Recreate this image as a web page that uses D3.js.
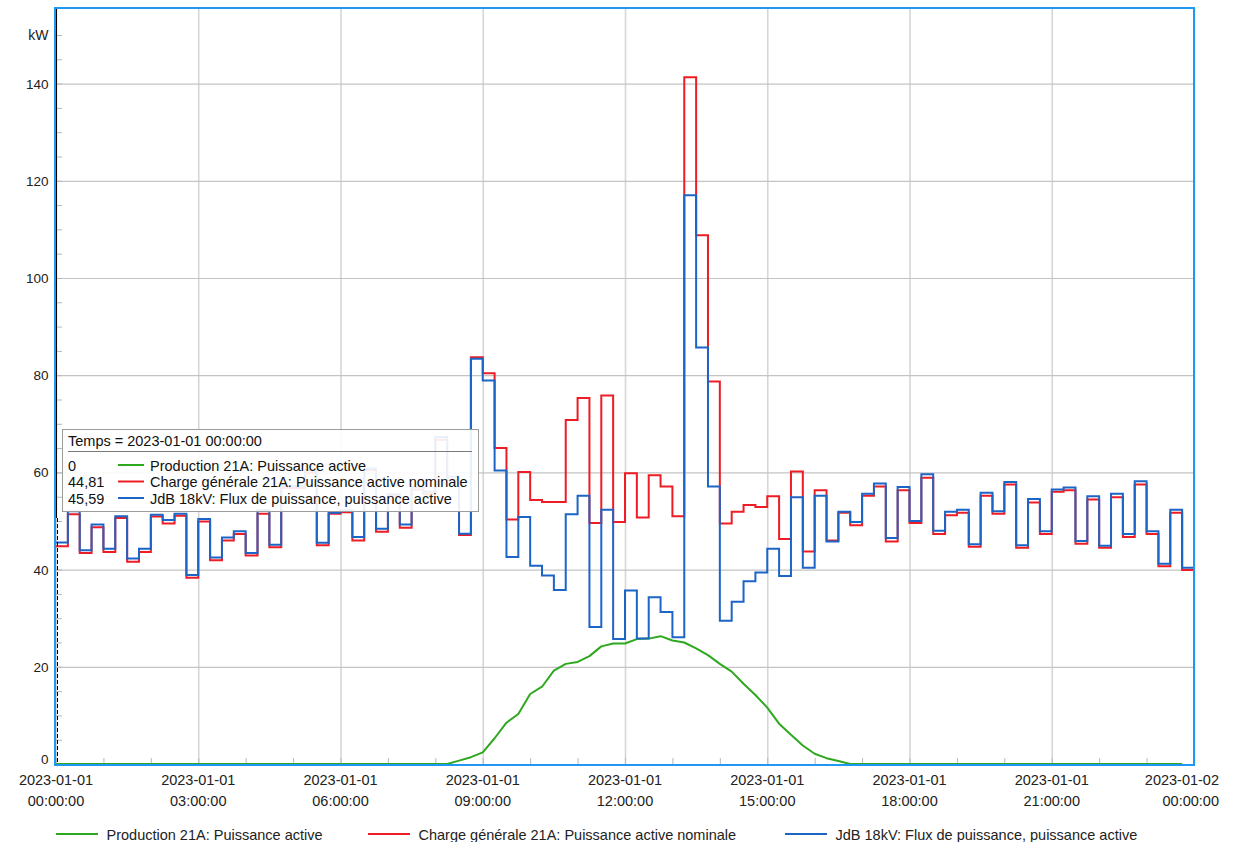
<!DOCTYPE html>
<html><head><meta charset="utf-8">
<script src="https://cdn.jsdelivr.net/npm/d3@7"></script>
<style>
body{margin:0;background:#fff;}
svg{display:block;font-family:"Liberation Sans",Arial,sans-serif;}
</style></head><body>
<svg id="chart" width="1243" height="842"></svg>
<script>
// ---------- DATA ----------
const startTime = "2023-01-01 00:00:00";
const endTime = "2023-01-02 00:00:00";
const stepMinutes = 15;
const unitLabel = "kW";
const yTicks = [0, 20, 40, 60, 80, 100, 120, 140];
const seriesNames = [
  "Production 21A: Puissance active",
  "Charge générale 21A: Puissance active nominale",
  "JdB 18kV: Flux de puissance, puissance active"
];
const seriesColors = ["#2ea81f", "#ee1c25", "#1c64c6"];
const production = [
  0,0,0,0,0,0,0,0,0,0,0,0,0,0,0,0,0,0,0,0,0,0,0,0,
  0,0,0,0,0,0,0,0,0,0,0.7,1.4,2.4,5.3,8.5,10.3,14.4,15.9,19.2,20.6,21.0,22.2,24.2,24.8,
  24.8,25.7,25.8,26.3,25.4,25.0,23.8,22.4,20.6,19.0,16.5,14.2,11.6,8.3,6.0,3.8,2.1,1.2,0.6,0,0,0,0,0,
  0,0,0,0,0,0,0,0,0,0,0,0,0,0,0,0,0,0,0,0,0,0,0,0
];
const charge = [
  44.81,51.4,43.4,48.7,43.6,50.6,41.6,43.6,50.9,49.5,51.1,38.3,49.9,41.9,46.0,47.3,42.9,51.5,44.6,56.8,56.8,60.0,45.0,51.5,
  51.8,46.0,60.5,47.8,55.2,48.6,56.5,55.5,66.7,58.5,47.1,83.7,80.4,65.0,50.3,60.1,54.3,53.9,53.9,70.8,75.3,49.6,75.8,49.8,
  59.8,50.7,59.4,57.1,51.0,141.3,108.8,78.7,49.5,51.9,53.3,52.9,55.1,46.3,60.2,43.7,56.3,46.0,51.7,49.1,55.2,57.1,45.8,56.3,
  49.6,58.9,47.3,51.2,51.7,44.7,55.2,51.5,57.5,44.5,53.8,47.3,56.0,56.3,45.3,54.4,44.5,54.9,46.7,57.5,47.3,40.7,51.7,39.9
];
const jdb = [
  45.59,52.0,44.0,49.3,44.3,51.0,42.3,44.3,51.3,50.2,51.5,38.9,50.4,42.5,46.6,47.9,43.4,52.2,45.1,57.2,57.2,60.5,45.5,51.7,
  52.2,46.7,60.8,48.4,55.5,49.3,57.0,56.0,67.3,59.1,47.4,83.4,78.9,60.4,42.6,50.8,40.8,38.8,35.8,51.4,55.2,28.2,52.3,25.7,
  35.7,25.8,34.3,31.3,26.1,117.0,85.7,57.1,29.5,33.4,37.6,39.4,44.3,38.7,54.9,40.4,55.2,45.8,51.9,49.8,55.6,57.7,46.5,57.0,
  50.0,59.6,48.0,51.9,52.3,45.2,55.8,52.0,58.0,45.0,54.5,47.9,56.5,56.9,45.9,55.1,44.9,55.6,47.3,58.2,47.9,41.2,52.3,40.4
];
const tooltipTitle = "Temps = 2023-01-01 00:00:00";
const tooltipValues = ["0", "44,81", "45,59"];

// ---------- LAYOUT ----------
const svg = d3.select("#chart");
const L = 56, R = 1194, T = 8, B = 764;
const parse = d3.timeParse("%Y-%m-%d %H:%M:%S");
const t0 = parse(startTime), t1 = parse(endTime);
const times = d3.range(production.length).map(i => d3.timeMinute.offset(t0, i * stepMinutes));

const x = d3.scaleTime().domain([t0, t1]).range([L, R]);
const y = d3.scaleLinear().domain([0, 155.55]).range([B, T]);

// grid
const g = svg.append("g");
g.append("g").attr("transform", `translate(0,${B})`)
  .call(d3.axisBottom(x).ticks(d3.timeHour.every(3)).tickSize(-(B - T)).tickFormat(""))
  .call(s => s.select(".domain").remove())
  .call(s => s.selectAll("line").attr("stroke", "#d6d6d6").attr("stroke-width", 1.6));
g.append("g").attr("transform", `translate(${L},0)`)
  .call(d3.axisLeft(y).tickValues(yTicks).tickSize(-(R - L)).tickFormat(""))
  .call(s => s.select(".domain").remove())
  .call(s => s.selectAll("line").attr("stroke", "#c4c4c4").attr("stroke-width", 1.2));

// minor ticks
g.append("g").attr("transform", `translate(0,${B})`)
  .call(d3.axisTop(x).ticks(d3.timeHour.every(1)).tickSize(6).tickFormat(""))
  .call(s => s.select(".domain").remove())
  .call(s => s.selectAll("line").attr("stroke", "#b8b8b8"));
g.append("g").attr("transform", `translate(${L},0)`)
  .call(d3.axisRight(y).tickValues(d3.range(5, 155, 5)).tickSize(6).tickFormat(""))
  .call(s => s.select(".domain").remove())
  .call(s => s.selectAll("line").attr("stroke", "#b8b8b8"));

// y labels
const yl = svg.append("g").attr("font-size", 13.5).attr("fill", "#222").attr("text-anchor", "end");
yTicks.forEach(v => {
  yl.append("text").attr("x", 48.5).attr("y", v === 0 ? B : y(v) + 5).text(v);
});
yl.append("text").attr("x", 48.5).attr("y", y(150) + 5).attr("font-size", 14).text(unitLabel);

// x labels
const fD = d3.timeFormat("%Y-%m-%d"), fT = d3.timeFormat("%H:%M:%S");
const xt = x.ticks(d3.timeHour.every(3));
const xl = svg.append("g").attr("font-size", 14.5).attr("fill", "#222");
xt.forEach((t, i) => {
  const last = i === xt.length - 1;
  const tx = last ? 1219 : x(t);
  const te = xl.append("text").attr("text-anchor", last ? "end" : "middle");
  te.append("tspan").attr("x", tx).attr("y", 785).text(fD(t));
  te.append("tspan").attr("x", tx).attr("y", 806).text(fT(t));
});

// series
const stepLine = d3.line().x(d => x(d[0])).y(d => y(d[1])).curve(d3.curveStepAfter);
const plainLine = d3.line().x(d => x(d[0])).y(d => y(d[1]));
const prodPts = production.map((v, i) => [times[i], v]);
const withEnd = arr => arr.map((v, i) => [times[i], v]).concat([[t1, arr[arr.length - 1]]]);

svg.append("clipPath").attr("id", "pc").append("rect")
  .attr("x", L).attr("y", T).attr("width", R - L).attr("height", B - T);
const lines = svg.append("g").attr("clip-path", "url(#pc)").attr("fill", "none")
  .attr("stroke-width", 2).attr("stroke-linejoin", "miter");
lines.append("path").attr("d", plainLine(prodPts)).attr("stroke", seriesColors[0]).attr("stroke-linejoin", "round");
lines.append("path").attr("d", stepLine(withEnd(charge))).attr("stroke", seriesColors[1]);
lines.append("path").attr("d", stepLine(withEnd(jdb))).attr("stroke", seriesColors[2]);

// frame
svg.append("rect").attr("x", L - 1).attr("y", T).attr("width", R - L + 1).attr("height", B - T + 1)
  .attr("fill", "none").attr("stroke", "#1e98f2").attr("stroke-width", 2);
svg.append("line").attr("x1", L + 0.5).attr("x2", L + 0.5).attr("y1", T + 1).attr("y2", 518)
  .attr("stroke", "#000").attr("stroke-width", 1);
svg.append("line").attr("x1", L + 1.5).attr("x2", L + 1.5).attr("y1", 518).attr("y2", B - 1)
  .attr("stroke", "#000").attr("stroke-width", 1).attr("stroke-dasharray", "4,2");

// tooltip
const tip = svg.append("g");
tip.append("rect").attr("x", 62.5).attr("y", 429.5).attr("width", 416).attr("height", 82)
  .attr("fill", "rgba(255,255,255,0.9)").attr("stroke", "#9c9c9c");
tip.append("text").attr("x", 68).attr("y", 445.5).attr("font-size", 14.5).attr("fill", "#111").text(tooltipTitle);
tip.append("line").attr("x1", 68).attr("x2", 472).attr("y1", 451.5).attr("y2", 451.5).attr("stroke", "#7a7a7a");
seriesNames.forEach((n, i) => {
  const by = 470.5 + i * 16.5;
  tip.append("text").attr("x", 68).attr("y", by).attr("font-size", 14.5).attr("fill", "#111").text(tooltipValues[i]);
  tip.append("line").attr("x1", 118).attr("x2", 144).attr("y1", by - 5.5).attr("y2", by - 5.5)
    .attr("stroke", seriesColors[i]).attr("stroke-width", 2);
  tip.append("text").attr("x", 150).attr("y", by).attr("font-size", 14.5).attr("fill", "#111").text(n);
});

// legend
const legX = [56, 368, 785];
const leg = svg.append("g");
seriesNames.forEach((n, i) => {
  leg.append("line").attr("x1", legX[i]).attr("x2", legX[i] + 42).attr("y1", 834).attr("y2", 834)
    .attr("stroke", seriesColors[i]).attr("stroke-width", 2);
  leg.append("text").attr("x", legX[i] + 50.5).attr("y", 839.5).attr("font-size", 14.5).attr("fill", "#222").text(n);
});
</script>
</body></html>
